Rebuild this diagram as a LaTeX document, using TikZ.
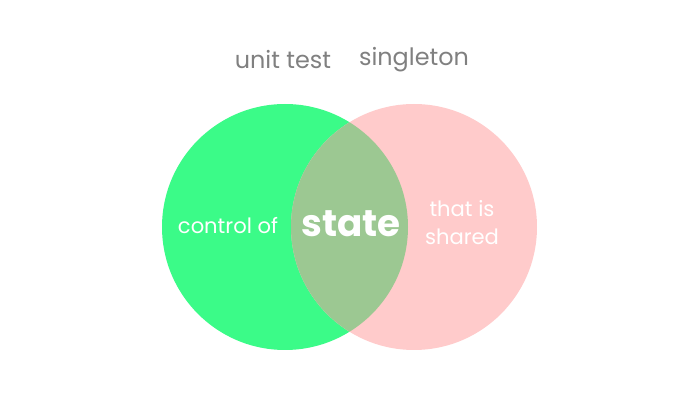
\documentclass[tikz,border=0pt]{standalone}
\usepackage{fontspec}
\setmainfont{Poppins}
\usepackage{tikz}
\definecolor{unitgreen}{HTML}{3BFB88}
\definecolor{singlepink}{HTML}{FFCBCB}
\definecolor{overlapgreen}{HTML}{9CC892}
\definecolor{titlegray}{HTML}{808080}

\begin{document}
\begin{tikzpicture}[
  x=0.025cm, y=-0.025cm,
  title/.style={
    font=\fontsize{17}{20}\selectfont, text=titlegray, inner sep=0pt
  },
  inlabel/.style={
    font=\fontsize{15}{20}\selectfont, text=white, inner sep=0pt,
    align=center
  },
  keyword/.style={
    font=\fontsize{26.5}{30}\selectfont\bfseries, text=white, inner sep=0pt
  },
]
\useasboundingbox (0,0) rectangle (700,400);

%% ---- Circles ----
\fill[unitgreen]  (285,227) circle (123);
\fill[singlepink] (414,227) circle (123);
\begin{scope}
  \clip (285,227) circle (123);
  \fill[overlapgreen] (414,227) circle (123);
\end{scope}

%% ---- Titles ----
\node[title] (unittest)  at (283,60) {unit test};
\node[title] (singleton) at (414,60) {singleton};

%% ---- Labels ----
\node[inlabel]  (control) at (228,226) {control of};
\node[keyword]  (state)   at (351,224) {state};
\node[inlabel]  (shared)  at (462,223) {that is\\shared};

\end{tikzpicture}
\end{document}
